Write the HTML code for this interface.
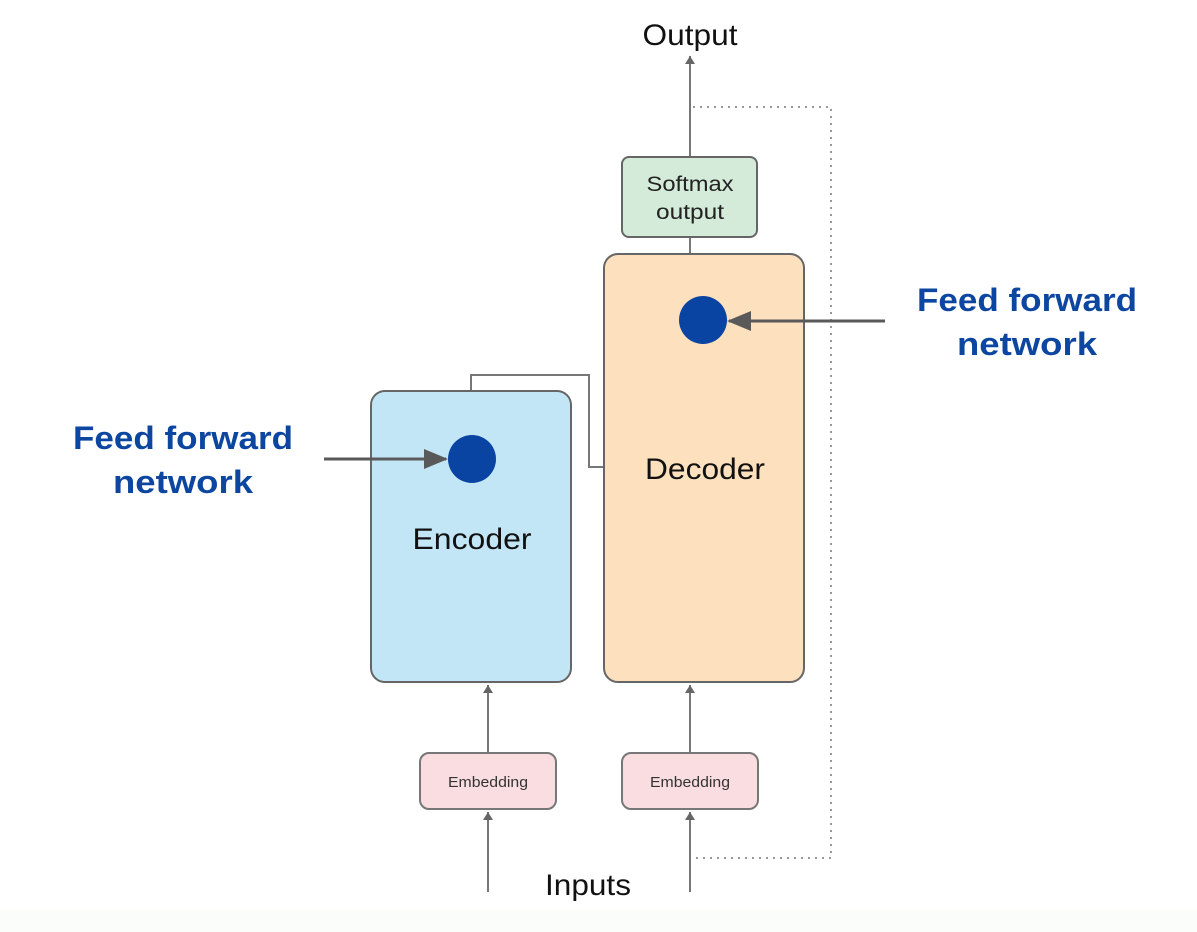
<!DOCTYPE html>
<html><head><meta charset="utf-8"><style>
html,body{margin:0;padding:0;background:#fff;}
svg{display:block;}
</style></head><body>
<svg width="1197" height="932" viewBox="0 0 1197 932" xmlns="http://www.w3.org/2000/svg">
<defs>
<marker id="ahs" markerWidth="8" markerHeight="12" refX="8" refY="6" orient="auto" markerUnits="userSpaceOnUse">
<path d="M0,1 L8,6 L0,11 z" fill="#666"/>
</marker>
<marker id="ahb" markerWidth="24" markerHeight="20" refX="22" refY="10" orient="auto" markerUnits="userSpaceOnUse">
<path d="M0,0 L24,10 L0,20 z" fill="#595959"/>
</marker>
</defs>
<rect x="0" y="910" width="1197" height="22" fill="#fbfdfb"/>
<path d="M693,107 H831 V858 H690" fill="none" stroke="#999" stroke-width="2" stroke-dasharray="2,5"/>
<line x1="690" y1="157" x2="690" y2="56" stroke="#777" stroke-width="2" marker-end="url(#ahs)"/>
<line x1="690" y1="237" x2="690" y2="254" stroke="#777" stroke-width="2"/>
<path d="M471,391 V375 H589 V467 H604" fill="none" stroke="#777" stroke-width="2"/>
<rect x="371" y="391" width="200" height="291" rx="14" fill="#c3e6f6" stroke="#666" stroke-width="2"/>
<rect x="604" y="254" width="200" height="428" rx="14" fill="#fde0bd" stroke="#666" stroke-width="2"/>
<rect x="622" y="157" width="135" height="80" rx="7" fill="#d3ebd8" stroke="#666" stroke-width="2"/>
<rect x="420" y="753" width="136" height="56" rx="9" fill="#fadde0" stroke="#777" stroke-width="2"/>
<rect x="622" y="753" width="136" height="56" rx="9" fill="#fadde0" stroke="#777" stroke-width="2"/>
<line x1="488" y1="892" x2="488" y2="812" stroke="#777" stroke-width="2" marker-end="url(#ahs)"/>
<line x1="690" y1="892" x2="690" y2="812" stroke="#777" stroke-width="2" marker-end="url(#ahs)"/>
<line x1="488" y1="753" x2="488" y2="685" stroke="#777" stroke-width="2" marker-end="url(#ahs)"/>
<line x1="690" y1="753" x2="690" y2="685" stroke="#777" stroke-width="2" marker-end="url(#ahs)"/>
<circle cx="472" cy="459" r="24" fill="#0a44a3"/>
<circle cx="703" cy="320" r="24" fill="#0a44a3"/>
<line x1="324" y1="459" x2="446" y2="459" stroke="#595959" stroke-width="3" marker-end="url(#ahb)"/>
<line x1="885" y1="321" x2="729" y2="321" stroke="#595959" stroke-width="3" marker-end="url(#ahb)"/>
<g font-family="Liberation Sans, sans-serif" fill="#111">
<text x="690" y="45" font-size="30" text-anchor="middle" textLength="95" lengthAdjust="spacingAndGlyphs">Output</text>
<text x="690" y="191" font-size="21" text-anchor="middle" fill="#222" textLength="87" lengthAdjust="spacingAndGlyphs">Softmax</text>
<text x="690" y="219" font-size="21" text-anchor="middle" fill="#222" textLength="68" lengthAdjust="spacingAndGlyphs">output</text>
<text x="705" y="479" font-size="30" text-anchor="middle" textLength="120" lengthAdjust="spacingAndGlyphs">Decoder</text>
<text x="472" y="549" font-size="30" text-anchor="middle" textLength="119" lengthAdjust="spacingAndGlyphs">Encoder</text>
<text x="488" y="787" font-size="15" text-anchor="middle" fill="#333" textLength="80" lengthAdjust="spacingAndGlyphs">Embedding</text>
<text x="690" y="787" font-size="15" text-anchor="middle" fill="#333" textLength="80" lengthAdjust="spacingAndGlyphs">Embedding</text>
<text x="588" y="895" font-size="30" text-anchor="middle" textLength="86" lengthAdjust="spacingAndGlyphs">Inputs</text>
</g>
<g font-family="Liberation Sans, sans-serif" font-weight="bold" fill="#0d46a0" font-size="32" text-anchor="middle">
<text x="183" y="449" textLength="220" lengthAdjust="spacingAndGlyphs">Feed forward</text>
<text x="183" y="493" textLength="140" lengthAdjust="spacingAndGlyphs">network</text>
<text x="1027" y="311" textLength="220" lengthAdjust="spacingAndGlyphs">Feed forward</text>
<text x="1027" y="355" textLength="140" lengthAdjust="spacingAndGlyphs">network</text>
</g>
</svg>
</body></html>
